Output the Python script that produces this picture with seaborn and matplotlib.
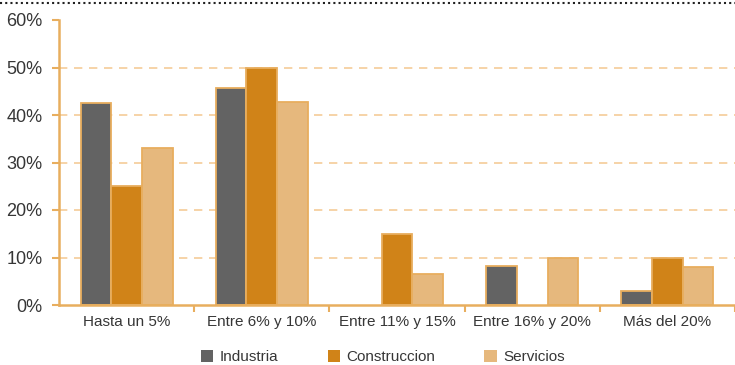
import matplotlib.pyplot as plt
import matplotlib.ticker as mticker
from matplotlib.lines import Line2D
import pandas as pd
import seaborn as sns

categories = ["Hasta un 5%", "Entre 6% y 10%", "Entre 11% y 15%", "Entre 16% y 20%", "Más del 20%"]
series = ["Industria", "Construccion", "Servicios"]
industria = [42.5, 45.7, 0, 8.3, 3]
construccion = [25, 50, 15, 0, 10]
servicios = [33, 42.7, 6.5, 9.8, 8]

colors = ["#636363", "#D08318", "#E6B87D"]
orange = "#E8AE5E"

df = pd.DataFrame({
    "categoria": categories * 3,
    "serie": [s for s in series for _ in categories],
    "valor": industria + construccion + servicios,
})

sns.set_style("white")
plt.rcParams["font.family"] = ["Liberation Sans", "DejaVu Sans"]

fig = plt.figure(figsize=(7.35, 3.65), dpi=100)
ax = fig.add_axes([59 / 735, 1 - 305 / 365, 1 - 59 / 735, 285 / 365])

sns.barplot(data=df, x="categoria", y="valor", hue="serie", order=categories,
            hue_order=series, palette=colors, width=0.68, saturation=1,
            edgecolor=orange, linewidth=1.3, ax=ax, legend=False)

# empty bars should not leave an edge line on the axis
for p in ax.patches:
    if p.get_height() == 0:
        p.set_visible(False)

ax.set_ylim(0, 60)
ax.set_xlim(-0.5, -0.5 + 676 / 136)
ax.set_yticks(range(0, 61, 10))
ax.yaxis.set_major_formatter(mticker.FuncFormatter(lambda v, p: f"{v:.0f}%"))
ax.set_xlabel("")
ax.set_ylabel("")

# gridlines on the inner values only (via minor ticks)
ax.set_axisbelow(True)
ax.yaxis.remove_overlapping_locs = False
ax.set_yticks(range(10, 51, 10), minor=True)
ax.yaxis.grid(False, which="major")
ax.yaxis.grid(True, which="minor", color="#F5CC98", linewidth=1.2, linestyle=(0, (5, 4)))
ax.tick_params(axis="y", which="minor", length=0)
ax.xaxis.grid(False, which="both")

for side in ["top", "right"]:
    ax.spines[side].set_visible(False)
for side in ["left", "bottom"]:
    ax.spines[side].set_color(orange)
    ax.spines[side].set_linewidth(1.8)

ax.tick_params(axis="y", which="major", left=True, length=5, width=1.5,
               color=orange, labelsize=13, labelcolor="#363636", pad=7)
ax.set_xticks(range(len(categories)))
ax.set_xticklabels(categories)
ax.tick_params(axis="x", which="major", bottom=False, labelsize=11,
               labelcolor="#363636", pad=4)
ax.set_xticks([i + 0.5 for i in range(len(categories))], minor=True)
ax.tick_params(axis="x", which="minor", bottom=True, length=5, width=1.5,
               color=orange)

handles = [plt.Rectangle((0, 0), 1, 1, facecolor=c, edgecolor="none") for c in colors]
fig.legend(handles, series, loc="center", bbox_to_anchor=(383 / 735, 1 - 357 / 365),
           ncol=3, frameon=False, fontsize=11, handlelength=0.8, handleheight=0.8,
           handletextpad=0.45, columnspacing=3.2, labelcolor="#363636")

# dotted border line on top
fig.add_artist(Line2D([0, 1], [1 - 3 / 365, 1 - 3 / 365], color="#222222",
                      linewidth=1.5, linestyle=(0, (1, 1.5)), transform=fig.transFigure))

fig.savefig("out.png", dpi=100)
